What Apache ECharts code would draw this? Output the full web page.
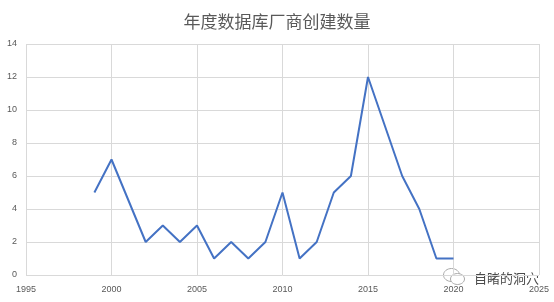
<!DOCTYPE html>
<html><head><meta charset="utf-8">
<script src="https://cdn.jsdelivr.net/npm/echarts@6/dist/echarts.min.js"></script>
<style>html,body{margin:0;padding:0;background:#fff}#c{width:554px;height:302px}</style>
</head><body><div id="c"></div>
<script>
const titleText = '年度数据库厂商创建数量';
const years = [1999, 2000, 2002, 2003, 2004, 2005, 2006, 2007, 2008, 2009, 2010, 2011, 2012, 2013, 2014, 2015, 2016, 2017, 2018, 2019, 2020];
const counts = [5, 7, 2, 3, 2, 3, 1, 2, 1, 2, 5, 1, 2, 5, 6, 12, 9, 6, 4, 1, 1];
const watermark = '自睹的洞穴';

const chart = echarts.init(document.getElementById('c'), null, {renderer: 'canvas'});
const font = '"Noto Sans CJK SC", "Noto Sans", sans-serif';
const tickFont = '"Liberation Sans", "DejaVu Sans", sans-serif';
chart.setOption({
  animation: false,
  backgroundColor: '#fff',
  title: {
    text: titleText, left: 'center', top: 8,
    textStyle: {fontFamily: font, fontSize: 17, fontWeight: 'normal', color: '#595959'}
  },
  grid: {left: 26, right: 15, top: 44, bottom: 27, containLabel: false},
  xAxis: {
    type: 'value', min: 1995, max: 2025, interval: 5,
    axisLine: {show: false}, axisTick: {show: false},
    splitLine: {show: true, lineStyle: {color: '#d9d9d9', width: 1}},
    axisLabel: {color: '#595959', fontSize: 9, fontFamily: tickFont, margin: 10, formatter: v => String(v)}
  },
  yAxis: {
    type: 'value', min: 0, max: 14, interval: 2,
    axisLine: {show: false}, axisTick: {show: false},
    splitLine: {show: true, lineStyle: {color: '#d9d9d9', width: 1}},
    axisLabel: {color: '#595959', fontSize: 9, fontFamily: tickFont, margin: 9}
  },
  series: [{
    type: 'line',
    data: years.map((y, i) => [y, counts[i]]),
    showSymbol: false,
    lineStyle: {color: '#4472C4', width: 2},
    itemStyle: {color: '#4472C4'}
  }],
  graphic: [{
    type: 'text', left: 473, top: 271,
    style: {text: watermark, fontFamily: font, fontSize: 13, fill: '#4a4a4a', stroke: '#fff', lineWidth: 2}
  }, {
    type: 'group', left: 443, top: 268,
    children: [
      {type: 'ellipse', shape: {cx: 9, cy: 7, rx: 8, ry: 6.5}, style: {fill: '#fff', stroke: '#aaa', lineWidth: 1}},
      {type: 'ellipse', shape: {cx: 15, cy: 11, rx: 7, ry: 5.5}, style: {fill: '#fff', stroke: '#aaa', lineWidth: 1}}
    ]
  }]
});
</script></body></html>
